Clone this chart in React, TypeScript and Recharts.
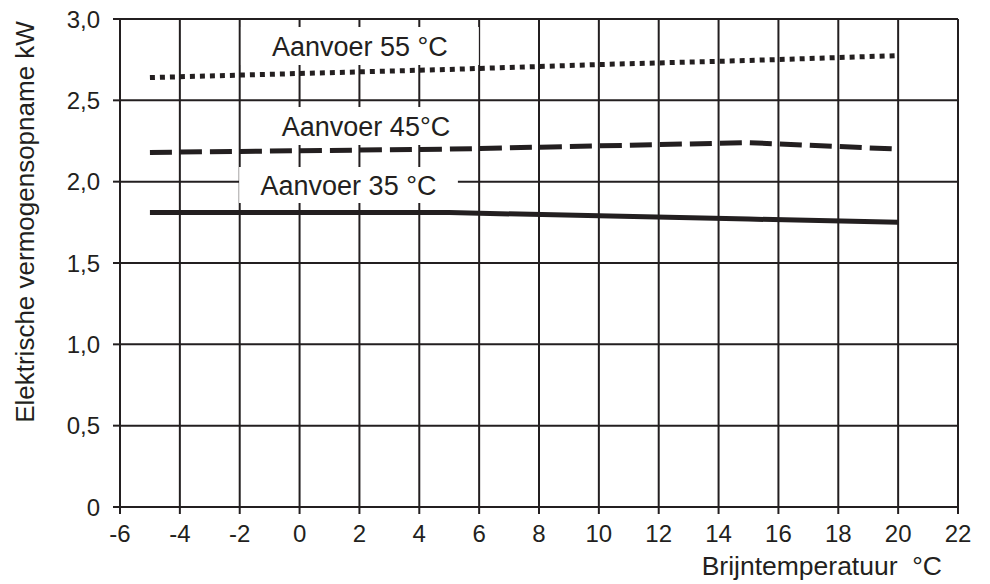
import { CartesianGrid, Label, Line, LineChart, ReferenceArea, XAxis, YAxis } from 'recharts'

const temps = [-5, 0, 5, 10, 15, 20]
const flow55 = [2.64, 2.665, 2.69, 2.72, 2.745, 2.775]
const flow45 = [2.18, 2.19, 2.2, 2.22, 2.24, 2.2]
const flow35 = [1.81, 1.81, 1.81, 1.79, 1.77, 1.75]

const xTicks = [-6, -4, -2, 0, 2, 4, 6, 8, 10, 12, 14, 16, 18, 20, 22]
const yTicks = [0, 0.5, 1, 1.5, 2, 2.5, 3]

const seriesLabels = ['Aanvoer 55 °C', 'Aanvoer 45°C', 'Aanvoer 35 °C']
// label boxes in data units: [x1, x2, y1, y2]
const labelBoxes = [
  [-1.96, 5.99, 2.717, 2.951],
  [-1.52, 5.96, 2.225, 2.459],
  [-2.02, 5.29, 1.869, 2.09],
]

const xTitle = 'Brijntemperatuur  °C'
const yTitle = 'Elektrische vermogensopname kW'

const INK = '#231f20'
const FONT = '"Liberation Sans", Arial, Helvetica, sans-serif'
const TICK_FS = 24

const data = temps.map((t, i) => ({
  t,
  a55: flow55[i],
  a45: flow45[i],
  a35: flow35[i],
}))

const fmtY = (v: number) => (v === 0 ? '0' : v.toFixed(1).replace('.', ','))

const XTick = (props: any) => (
  <text x={props.x} y={props.y} dy="0.72em" textAnchor="middle" fill={INK} fontSize={TICK_FS} fontFamily={FONT}>
    {String(props.payload.value)}
  </text>
)

const YTick = (props: any) => (
  <text x={props.x} y={props.y} dy="0.36em" textAnchor="end" fill={INK} fontSize={TICK_FS} fontFamily={FONT}>
    {fmtY(props.payload.value)}
  </text>
)

export default function App() {
  return (
    <div style={{ position: 'absolute', left: 0, top: 0, width: 990, height: 584, background: '#fff' }}>
      <LineChart
        width={990}
        height={584}
        data={data}
        margin={{ top: 19, right: 32, bottom: 0, left: 0 }}
        style={{ fontFamily: FONT }}
      >
        <CartesianGrid stroke={INK} strokeWidth={2} />
        <XAxis
          dataKey="t"
          type="number"
          domain={[-6, 22]}
          ticks={xTicks}
          interval={0}
          height={77}
          tickSize={7}
          tickMargin={11}
          axisLine={{ stroke: INK, strokeWidth: 2 }}
          tickLine={{ stroke: INK, strokeWidth: 2 }}
          tick={<XTick />}
        >
          <Label
            content={() => (
              <text
                x={942}
                y={575}
                textAnchor="end"
                fill={INK}
                fontSize={26.5}
                fontFamily={FONT}
                style={{ whiteSpace: 'pre' }}
              >
                {xTitle}
              </text>
            )}
          />
        </XAxis>
        <XAxis
          xAxisId="top"
          orientation="top"
          dataKey="t"
          type="number"
          domain={[-6, 22]}
          ticks={xTicks}
          interval={0}
          height={0}
          tickSize={3}
          tick={false}
          axisLine={false}
          tickLine={{ stroke: INK, strokeWidth: 2 }}
        />
        <YAxis
          type="number"
          domain={[0, 3]}
          ticks={yTicks}
          interval={0}
          width={120}
          tickSize={7}
          tickMargin={13}
          axisLine={{ stroke: INK, strokeWidth: 2 }}
          tickLine={{ stroke: INK, strokeWidth: 2 }}
          tick={<YTick />}
        >
          <Label
            content={() => (
              <text
                x={25}
                y={222}
                transform="rotate(-90 25 222)"
                textAnchor="middle"
                dominantBaseline="central"
                fill={INK}
                fontSize={26}
                fontFamily={FONT}
              >
                {yTitle}
              </text>
            )}
          />
        </YAxis>
        <YAxis
          yAxisId="right"
          orientation="right"
          type="number"
          domain={[0, 3]}
          ticks={yTicks}
          interval={0}
          width={0}
          tickSize={3}
          tick={false}
          axisLine={false}
          tickLine={{ stroke: INK, strokeWidth: 2 }}
        />
        {labelBoxes.map((b, i) => (
          <ReferenceArea
            key={seriesLabels[i]}
            x1={b[0]}
            x2={b[1]}
            y1={b[2]}
            y2={b[3]}
            fill="#fff"
            fillOpacity={1}
            stroke="none"
            ifOverflow="visible"
            label={{ value: seriesLabels[i], position: 'center', fill: INK, fontSize: 27, fontFamily: FONT }}
          />
        ))}
        <Line
          dataKey="a55"
          stroke={INK}
          strokeWidth={5}
          strokeDasharray="5 5"
          dot={false}
          activeDot={false}
          isAnimationActive={false}
        />
        <Line
          dataKey="a45"
          stroke={INK}
          strokeWidth={5}
          strokeDasharray="22 8"
          dot={false}
          activeDot={false}
          isAnimationActive={false}
        />
        <Line
          dataKey="a35"
          stroke={INK}
          strokeWidth={5}
          dot={false}
          activeDot={false}
          isAnimationActive={false}
        />
      </LineChart>
    </div>
  )
}
